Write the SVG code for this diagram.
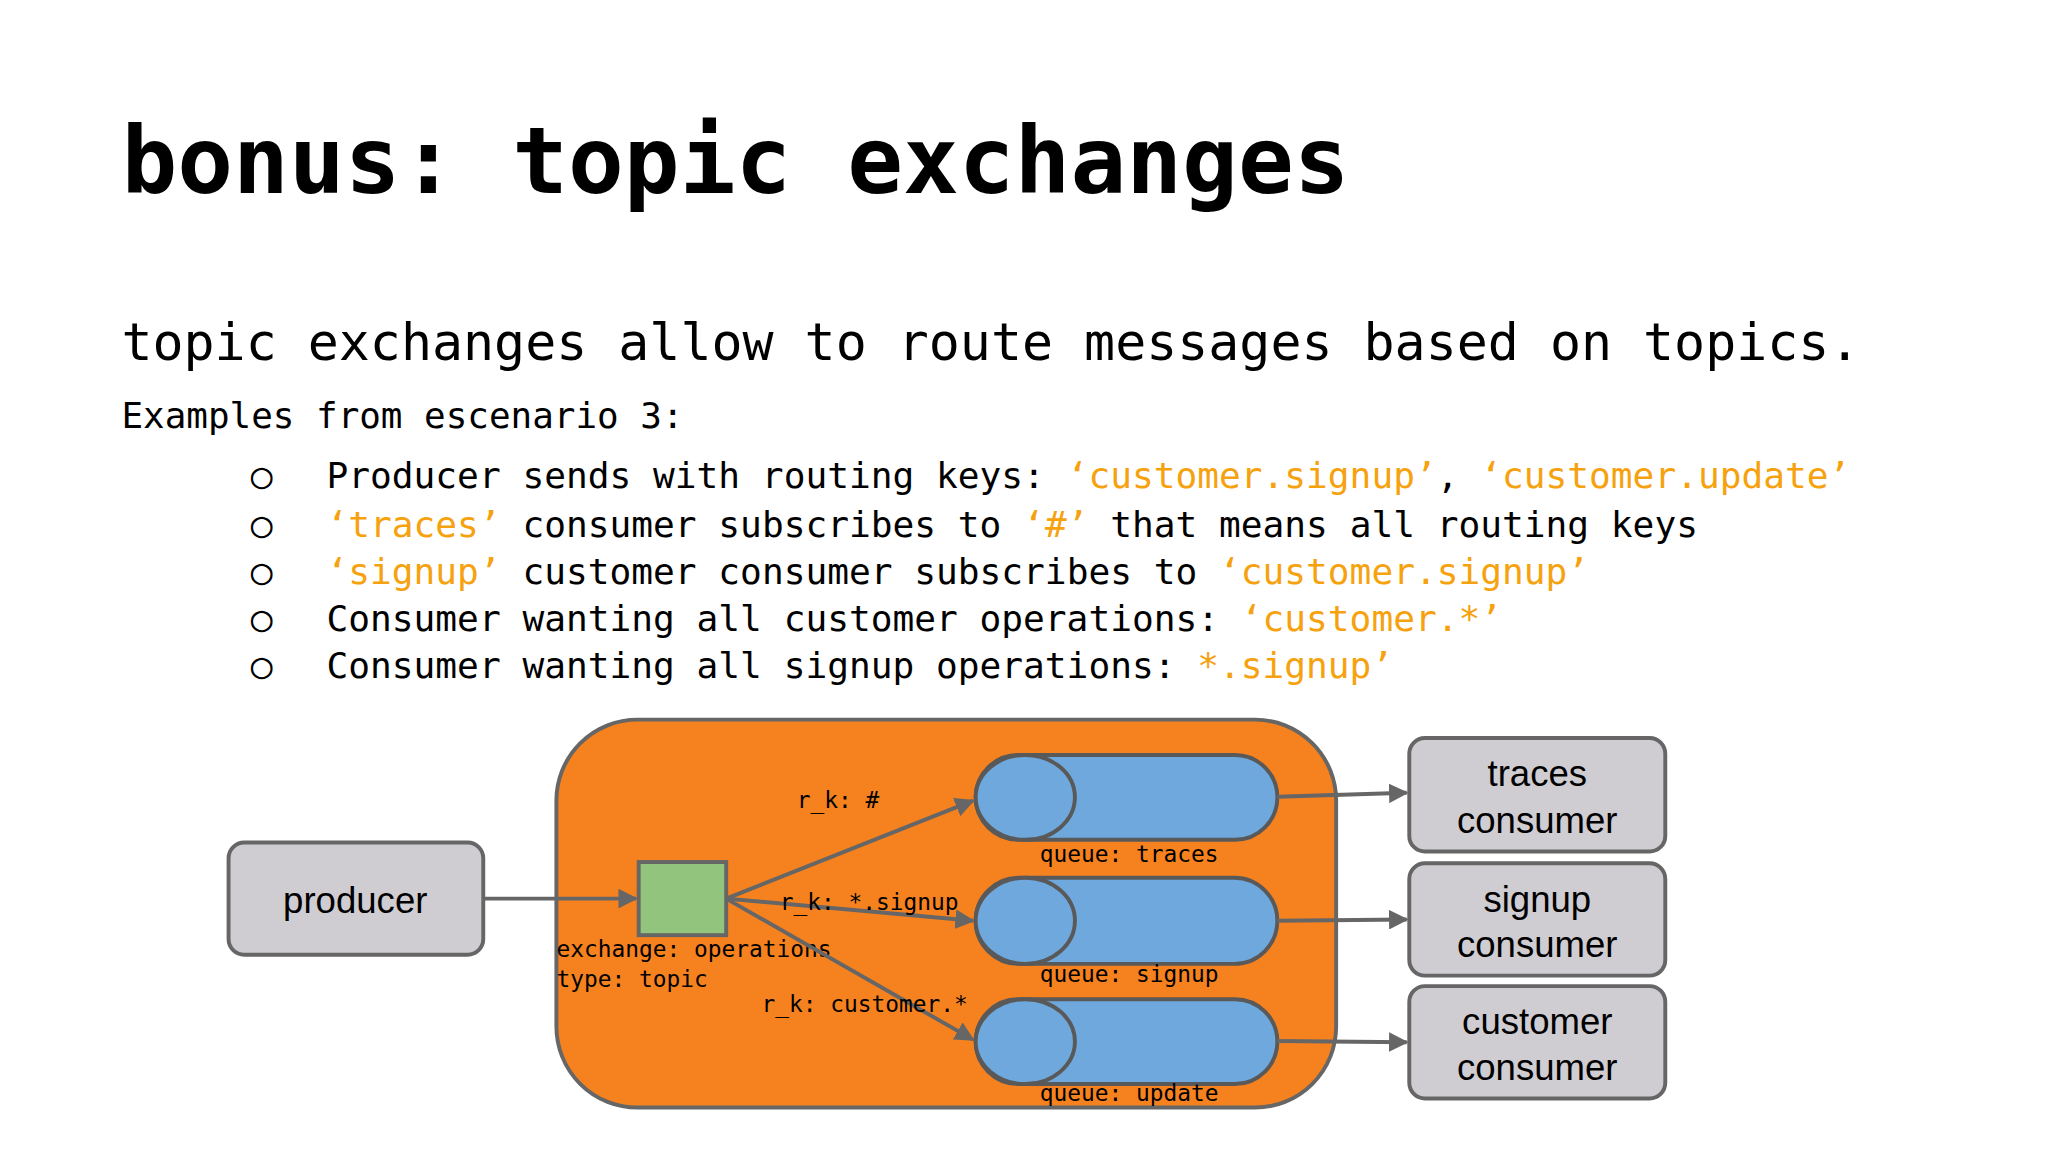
<svg xmlns="http://www.w3.org/2000/svg" width="2048" height="1152" viewBox="0 0 2048 1152">
<defs>
<marker id="ah" viewBox="0 0 10 10" refX="9" refY="5" markerWidth="5" markerHeight="5" orient="auto"><path d="M0,0L10,5L0,10z" fill="#666"/></marker>
<style>
.m{font-family:"DejaVu Sans Mono","Liberation Mono",monospace;fill:#000}
.o{fill:#f6a20f}
.b{fill:#cfcdd1;stroke:#666;stroke-width:3}
.s{font-family:"Liberation Sans",Arial,sans-serif;font-size:28px;text-anchor:middle;fill:#000}
.l{font-size:17.5px}
.q{fill:#6fa8dc;stroke:#595959;stroke-width:3}
.c{stroke:#666;stroke-width:3;fill:none;marker-end:url(#ah)}
</style>
</defs>
<rect width="2048" height="1152" fill="#fff"/>
<g transform="scale(1.3061)">
<g id="texts">
<text class="m" x="93" y="148" font-size="71" font-weight="bold">bonus: topic exchanges</text>
<text class="m" x="93" y="276" font-size="39.5">topic exchanges allow to route messages based on topics.</text>
<text class="m" x="93" y="328" font-size="27.5">Examples from escenario 3:</text>
<g class="m" font-size="27.7">
<text x="192" y="374">○</text><text x="192" y="411">○</text><text x="192" y="447">○</text><text x="192" y="483">○</text><text x="192" y="519">○</text>
<text x="250" y="374">Producer sends with routing keys: <tspan class="o">‘customer.signup’</tspan>, <tspan class="o">‘customer.update’</tspan></text>
<text x="250" y="411"><tspan class="o">‘traces’</tspan> consumer subscribes to <tspan class="o">‘#’</tspan> that means all routing keys</text>
<text x="250" y="447"><tspan class="o">‘signup’</tspan> customer consumer subscribes to <tspan class="o">‘customer.signup’</tspan></text>
<text x="250" y="483">Consumer wanting all customer operations: <tspan class="o">‘customer.*’</tspan></text>
<text x="250" y="519">Consumer wanting all signup operations: <tspan class="o">*.signup’</tspan></text>
</g>
</g>
<g id="broker"><rect x="426" y="551" width="597" height="297" rx="62" fill="#f6821f" stroke="#666" stroke-width="3"/></g>
<g id="producer"><rect class="b" x="175" y="645" width="195" height="86" rx="12"/><text class="s" x="272" y="699">producer</text></g>
<g id="exchange"><rect x="489" y="660" width="67" height="56" fill="#93c47d" stroke="#666" stroke-width="3"/>
<text class="m l" x="426" y="733">exchange: operations</text><text class="m l" x="426" y="756">type: topic</text></g>
<g id="q-traces"><rect class="q" x="747" y="578" width="231" height="65" rx="32.5"/><ellipse class="q" cx="785" cy="610.5" rx="38" ry="32.5"/><text class="m l" x="796" y="660">queue: traces</text></g>
<g id="q-signup"><rect class="q" x="747" y="672" width="231" height="66" rx="33"/><ellipse class="q" cx="785" cy="705" rx="38" ry="33"/><text class="m l" x="796" y="752">queue: signup</text></g>
<g id="q-update"><rect class="q" x="747" y="765" width="231" height="65" rx="32.5"/><ellipse class="q" cx="785" cy="797.5" rx="38" ry="32.5"/><text class="m l" x="796" y="843">queue: update</text></g>
<g id="c-traces"><rect class="b" x="1079" y="565" width="196" height="87" rx="12"/><text class="s" x="1177" y="602">traces</text><text class="s" x="1177" y="638">consumer</text></g>
<g id="c-signup"><rect class="b" x="1079" y="661" width="196" height="86" rx="12"/><text class="s" x="1177" y="698">signup</text><text class="s" x="1177" y="733">consumer</text></g>
<g id="c-customer"><rect class="b" x="1079" y="755" width="196" height="86" rx="12"/><text class="s" x="1177" y="792">customer</text><text class="s" x="1177" y="827">consumer</text></g>
<g id="connectors">
<path class="c" d="M370,688H487"/>
<path class="c" d="M556,688L745,613"/>
<path class="c" d="M556,688L745,705"/>
<path class="c" d="M556,688L745,796"/>
<path class="c" d="M978,610L1077,607"/>
<path class="c" d="M978,705L1077,704"/>
<path class="c" d="M978,797L1077,798"/>
<text class="m l" x="610" y="619">r_k: #</text>
<text class="m l" x="597" y="697">r_k: *.signup</text>
<text class="m l" x="583" y="775">r_k: customer.*</text>
</g>
</g>
</svg>
